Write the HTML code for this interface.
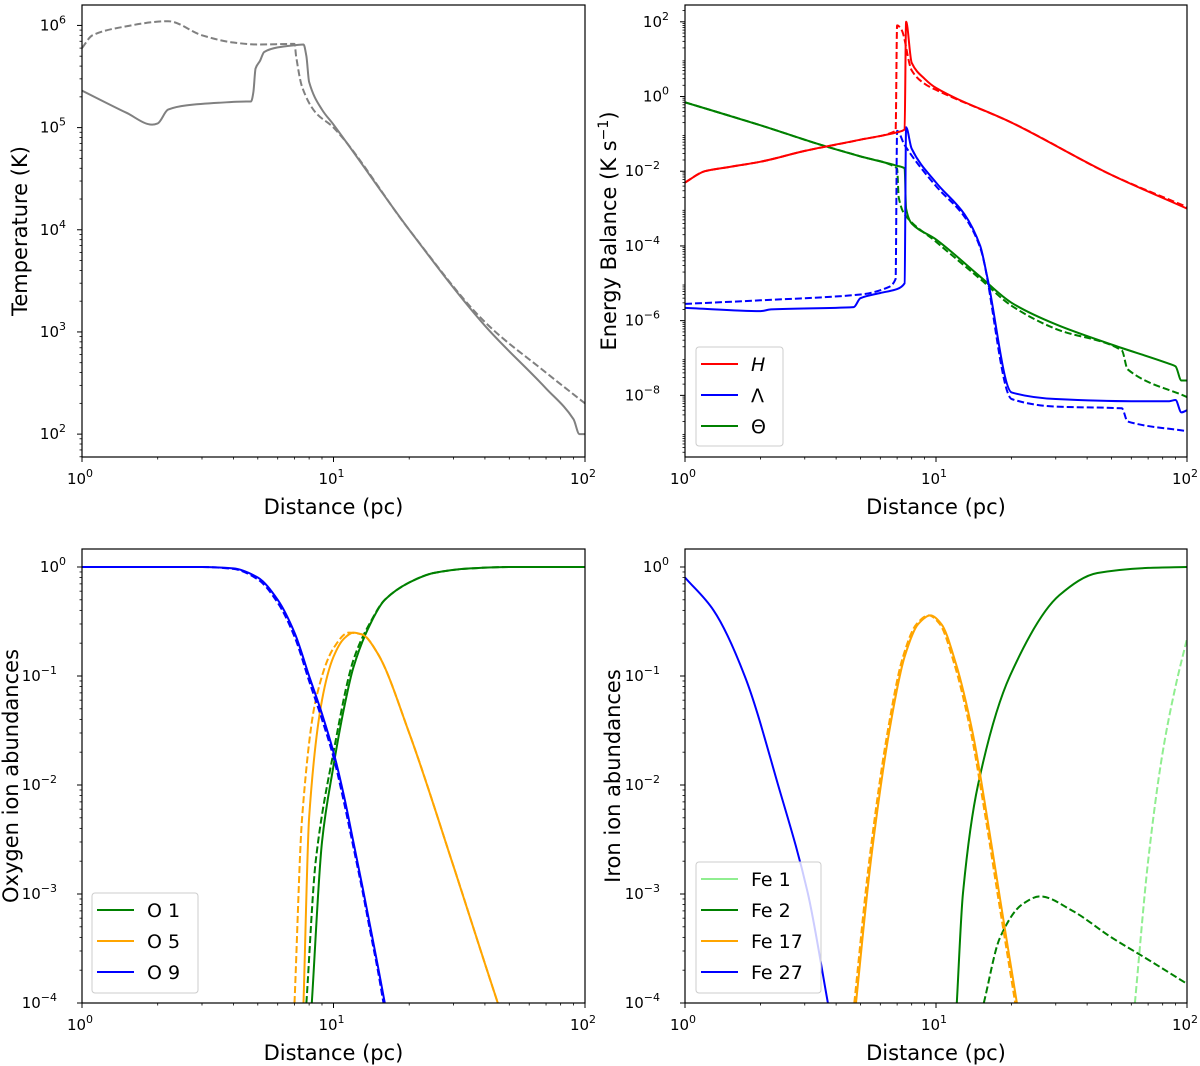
<!DOCTYPE html>
<html><head><meta charset="utf-8"><style>
body{margin:0;background:#fff;}
svg{display:block;font-family:"DejaVu Sans","Liberation Sans",sans-serif;}
</style></head><body>
<svg id="fig" width="1200" height="1066" viewBox="0 0 1200 1066" xmlns="http://www.w3.org/2000/svg"></svg>
<script>
// ---- Data (distance in pc, values in physical units) ----
const tSolidX=[1,1.5,1.9,2.0,2.2,2.6,3.5,4.5,4.7,4.8,4.9,5.1,5.3,6,7,7.6,7.8,8,9,10,20,40,70,90,95,100];
const tSolidY=[2.3e5,1.4e5,1.07e5,1.1e5,1.5e5,1.65e5,1.75e5,1.8e5,1.8e5,2.2e5,3.8e5,4.5e5,5.5e5,6.1e5,6.4e5,6.5e5,5e5,2.8e5,1.5e5,1.07e5,1e4,1.15e3,2.8e2,1.4e2,1e2,1e2];
const tDashX=[1,1.1,1.4,2.2,3,4,5,7,7.1,7.5,8.5,10,20,40,70,100];
const tDashY=[6e5,8e5,9.5e5,1.1e6,8e5,6.8e5,6.5e5,6.6e5,5e5,2.5e5,1.4e5,1e5,1e4,1.25e3,4e2,2e2];

const hSolidX=[1,1.2,1.5,2,3,5,7,7.5,7.6,8,9,10,20,50,100];
const hSolidY=[5e-3,1e-2,1.3e-2,1.8e-2,3.5e-2,7e-2,1.1e-1,1.3e-1,1e2,8,3,1.7,0.2,8e-3,1e-3];
const hDashX=[1,1.2,1.5,2,3,5,6.9,7.0,7.3,8,9,10,20,50,100];
const hDashY=[5e-3,1e-2,1.3e-2,1.8e-2,3.5e-2,7e-2,1.2e-1,80,60,5,2.2,1.5,0.2,8e-3,1.1e-3];
const lSolidX=[1,2,2.2,4.7,5,6,7,7.5,7.6,8,10,13,15,16,20,30,60,85,90,95,100];
const lSolidY=[2.2e-6,1.8e-6,2e-6,2.3e-6,4e-6,5.5e-6,7e-6,1e-5,0.15,0.04,5e-3,7e-4,1e-4,1.5e-5,1.2e-8,8e-9,7e-9,7e-9,7.5e-9,3.5e-9,4e-9];
const lDashX=[1,2,5,6.5,6.9,7.0,7.5,10,13,15,20,30,55,58,100];
const lDashY=[2.8e-6,3.5e-6,5e-6,8e-6,1.3e-5,0.12,0.05,4e-3,6e-4,9e-5,8e-9,5e-9,4.5e-9,2e-9,1.1e-9];
const thSolidX=[1,2,3.5,5,7,7.5,7.6,8,10,15,20,30,50,85,90,95,100];
const thSolidY=[0.7,0.17,0.05,0.025,0.014,0.012,1e-3,4e-4,1.5e-4,1.5e-5,3e-6,8e-7,2.3e-7,7e-8,6e-8,2.5e-8,2.5e-8];
const thDashX=[1,2,3.5,5,7,7.1,7.5,10,15,20,30,55,58,100];
const thDashY=[0.7,0.17,0.05,0.025,1.2e-2,2e-3,7e-4,1.3e-4,1.3e-5,2.5e-6,6e-7,1.6e-7,5e-8,9e-9];

const o9X=[1,3,4,5,6,7,8,9,10,11,12,13,14,15,16];
const o9Y=[1,1,0.97,0.8,0.5,0.25,0.1,0.045,0.02,8e-3,3e-3,1.2e-3,5e-4,2.2e-4,1e-4];
const o9dX=[1,3,4,5,6,7,8,9,10,11,12,13,14,15,15.8];
const o9dY=[1,1,0.96,0.77,0.47,0.23,0.09,0.04,0.018,7e-3,2.7e-3,1.1e-3,4.5e-4,2e-4,1e-4];
const o5X=[7.6,8,9,10,11,12,13,15,20,30,40,45];
const o5Y=[1e-4,5e-3,0.06,0.15,0.22,0.25,0.24,0.16,0.03,1.8e-3,2.3e-4,1e-4];
const o5dX=[7.0,7.5,8.5,10,11.5,13,15,20,30,40,45];
const o5dY=[1e-4,5e-3,0.06,0.18,0.25,0.24,0.16,0.03,1.8e-3,2.3e-4,1e-4];
const o1X=[8.2,9,10,11,12,14,16,20,25,35,50,100];
const o1Y=[1e-4,3e-3,0.015,0.05,0.12,0.3,0.5,0.72,0.88,0.97,1,1];
const o1dX=[7.8,8.5,10,12,14,16,20,25,35,50,100];
const o1dY=[1e-4,2e-3,0.02,0.14,0.31,0.5,0.72,0.88,0.97,1,1];

const fe27X=[1,1.3,1.73,2.35,3.09,3.71];
const fe27Y=[0.8,0.4,0.1,0.01,1e-3,1e-4];
const fe17X=[4.8,5.5,6.5,7.5,8.5,9.5,10.5,12,14,16,18,20,21];
const fe17Y=[1e-4,2e-3,0.03,0.15,0.3,0.36,0.3,0.13,0.03,5e-3,9e-4,2e-4,1e-4];
const fe2X=[12.1,12.8,14.7,19.7,31,44,70,100];
const fe2Y=[1e-4,1e-3,0.01,0.1,0.55,0.88,0.98,1];
const fe2dX=[15.5,18,22,26,35,50,70,100];
const fe2dY=[1e-4,4e-4,8e-4,9.5e-4,7e-4,4e-4,2.5e-4,1.5e-4];
const fe1dX=[62,70,80,90,100];
const fe1dY=[1e-4,2e-3,0.02,0.08,0.22];

const xTicks=[0,1,2];
const NS='http://www.w3.org/2000/svg';
const svg=document.getElementById('fig');
function el(tag,attrs,parent){const e=document.createElementNS(NS,tag);for(const k in attrs)e.setAttribute(k,attrs[k]);(parent||svg).appendChild(e);return e;}

function makeAxes(name,x0,x1,y0,y1,ymin,ymax,yTicks,ylabel,ylx){
  const g=el('g',{});
  
  
  const sx=v=>x0+(Math.log10(v)-0)/2*(x1-x0);
  const sy=v=>y1-(Math.log10(v)-ymin)/(ymax-ymin)*(y1-y0);
  for(let d=0;d<2;d++)for(let m=2;m<10;m++){const x=sx(m*Math.pow(10,d));el('line',{x1:x,x2:x,y1:y1,y2:y1+2.5,stroke:'#000','stroke-width':0.8},g);}
  xTicks.forEach(t=>{const x=sx(Math.pow(10,t));el('line',{x1:x,x2:x,y1:y1,y2:y1+5,stroke:'#000','stroke-width':1},g);
    const tx=el('text',{x:x-2,y:y1+27,'font-size':15,'text-anchor':'middle'},g);tx.textContent='10';
    const s=el('tspan',{'font-size':11,dy:-7},tx);s.textContent=String(t);
    });
  for(let d=Math.floor(ymin);d<Math.ceil(ymax);d++)for(let m=2;m<10;m++){const v=Math.log10(m)+d;if(v<ymin||v>ymax)continue;const y=sy(Math.pow(10,v));el('line',{x1:x0,x2:x0-2.5,y1:y,y2:y,stroke:'#000','stroke-width':0.8},g);}
  yTicks.forEach(t=>{const y=sy(Math.pow(10,t));el('line',{x1:x0,x2:x0-5,y1:y,y2:y,stroke:'#000','stroke-width':1},g);
    const tx=el('text',{x:x0-8-(t<0?17:8),y:y+5,'font-size':15,'text-anchor':'end'},g);tx.textContent='10';
    const s=el('tspan',{'font-size':11,dy:-7,'text-anchor':'start'},tx);s.textContent=(t<0?'\u2212'+(-t):String(t));
    });
  const xl=el('text',{x:(x0+x1)/2,y:y1+57,'font-size':21,'text-anchor':'middle'},g);xl.textContent='Distance (pc)';
  
  const yl=el('text',{x:ylx,y:(y0+y1)/2,'font-size':21,'text-anchor':'middle',transform:`rotate(-90 ${ylx} ${(y0+y1)/2})`},g);yl.innerHTML=ylabel;
  
  const clipId='c'+name;const cp=el('clipPath',{id:clipId},g);el('rect',{x:x0,y:y0,width:x1-x0,height:y1-y0},cp);
  const plot=el('g',{'clip-path':`url(#${clipId})`},g);
  const frame=el('rect',{x:x0,y:y0,width:x1-x0,height:y1-y0,fill:'none',stroke:'#000','stroke-width':1.2},g);
  
  return {g,plot,sx,sy};
}
function monoPath(P){
  const n=P.length;if(n<3)return 'M'+P.map(p=>p[0].toFixed(1)+','+p[1].toFixed(1)).join('L');
  const d=[],m=[];
  for(let i=0;i<n-1;i++){const dx=P[i+1][0]-P[i][0];d.push(dx>0.01?(P[i+1][1]-P[i][1])/dx:Infinity);}
  for(let i=0;i<n;i++){
    if(i===0)m.push(isFinite(d[0])?d[0]:0);
    else if(i===n-1)m.push(isFinite(d[n-2])?d[n-2]:0);
    else{const a=d[i-1],b=d[i];if(!isFinite(a)||!isFinite(b)||a*b<=0)m.push(0);else m.push(2/(1/a+1/b));}
  }
  let s='M'+P[0][0].toFixed(1)+','+P[0][1].toFixed(1);
  for(let i=0;i<n-1;i++){const dx=P[i+1][0]-P[i][0];
    if(!isFinite(d[i])){s+='L'+P[i+1][0].toFixed(1)+','+P[i+1][1].toFixed(1);continue;}
    const c1=[P[i][0]+dx/3,P[i][1]+m[i]*dx/3],c2=[P[i+1][0]-dx/3,P[i+1][1]-m[i+1]*dx/3];
    s+='C'+c1[0].toFixed(1)+','+c1[1].toFixed(1)+' '+c2[0].toFixed(1)+','+c2[1].toFixed(1)+' '+P[i+1][0].toFixed(1)+','+P[i+1][1].toFixed(1);}
  return s;
}
function series(ax,xs,ys,color,dash,name,w){
  const P=xs.map((x,i)=>[ax.sx(x),ax.sy(ys[i])]);
  const p=el('path',{d:monoPath(P),fill:'none',stroke:color,'stroke-width':w||2,'stroke-dasharray':dash?'7,3':'none','stroke-linejoin':'round'},ax.plot);
  
  
}
function legend(ax,x,y,w,h,items,name){
  const g=el('g',{},ax.g);
  
  
  el('rect',{x,y,width:w,height:h,rx:3,fill:'#fff','fill-opacity':0.8,stroke:'#ccc'},g);
  items.forEach((it,i)=>{const yy=y+17+i*31;
    el('line',{x1:x+5,x2:x+42,y1:yy,y2:yy,stroke:it[1],'stroke-width':2},g);
    const t=el('text',{x:x+55,y:yy+7,'font-size':19,'font-style':it[2]?'italic':'normal'},g);t.textContent=it[0];
    });
}

const a1=makeAxes('temperature-panel',82,585,5,457,1.776,6.2,[2,3,4,5,6],'Temperature (K)',27);
series(a1,tSolidX,tSolidY,'#808080',false,'temperature-solid');
series(a1,tDashX,tDashY,'#808080',true,'temperature-dashed');

const a2=makeAxes('energy-balance-panel',685,1187,5,457,-9.65,2.45,[-8,-6,-4,-2,0,2],'Energy Balance (K s<tspan font-size="14" dy="-8">\u22121</tspan><tspan dy="8">)</tspan>',616);
series(a2,thSolidX,thSolidY,'green',false,'theta-solid');
series(a2,thDashX,thDashY,'green',true,'theta-dashed');
series(a2,lSolidX,lSolidY,'blue',false,'lambda-solid');
series(a2,lDashX,lDashY,'blue',true,'lambda-dashed');
series(a2,hSolidX,hSolidY,'red',false,'heating-solid');
series(a2,hDashX,hDashY,'red',true,'heating-dashed');
legend(a2,696,347,87,99,[['H','red',1],['\u039B','blue'],['\u0398','green']],'energy-legend');

const a3=makeAxes('oxygen-panel',82,585,549,1003,-4,0.165,[-4,-3,-2,-1,0],'Oxygen ion abundances',18);
series(a3,o1X,o1Y,'green',false,'o1-solid');
series(a3,o1dX,o1dY,'green',true,'o1-dashed');
series(a3,o5X,o5Y,'orange',false,'o5-solid');
series(a3,o5dX,o5dY,'orange',true,'o5-dashed');
series(a3,o9X,o9Y,'blue',false,'o9-solid');
series(a3,o9dX,o9dY,'blue',true,'o9-dashed');
legend(a3,92,893,106,100,[['O 1','green'],['O 5','orange'],['O 9','blue']],'oxygen-legend');

const a4=makeAxes('iron-panel',685,1187,549,1003,-4,0.165,[-4,-3,-2,-1,0],'Iron ion abundances',620);
series(a4,fe1dX,fe1dY,'lightgreen',true,'fe1-dashed');
series(a4,fe2X,fe2Y,'green',false,'fe2-solid');
series(a4,fe2dX,fe2dY,'green',true,'fe2-dashed');
series(a4,fe17X,fe17Y,'orange',false,'fe17-solid');
series(a4,fe17X.map(v=>v*0.985),fe17Y,'orange',true,'fe17-dashed');
series(a4,fe27X,fe27Y,'blue',false,'fe27-solid');
legend(a4,696,862,125,131,[['Fe 1','lightgreen'],['Fe 2','green'],['Fe 17','orange'],['Fe 27','blue']],'iron-legend');
</script>
</body></html>
